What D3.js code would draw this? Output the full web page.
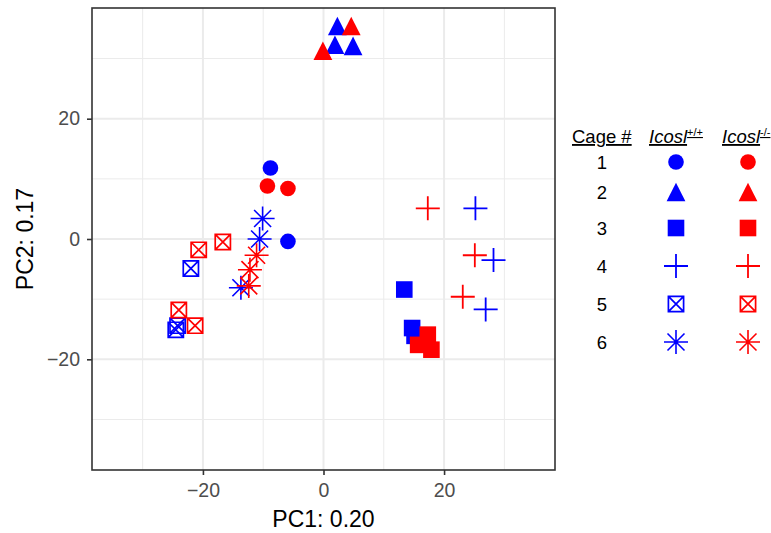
<!DOCTYPE html>
<html>
<head>
<meta charset="utf-8">
<script src="https://cdn.jsdelivr.net/npm/d3@7"></script>
<style>
  body { margin: 0; background: #fff; }
  text { font-family: "Liberation Sans", Arial, sans-serif; }
</style>
</head>
<body>
<div id="chart"></div>
<script>
// PCA scores, one entry per mouse
const pc1 = [-8.8, -5.9, -9.3, -5.9,
             2.3, 1.9, 4.9, 4.6, -0.1,
             13.4, 14.7, 15.1, 17.3, 15.7, 17.9,
             25.2, 28.2, 26.9, 17.3, 25.1, 23.1,
             -22.0, -24.2, -24.5, -16.7, -20.7, -24.0, -21.3,
             -10.1, -10.6, -13.7, -11.1, -12.2, -12.4];
const pc2 = [11.8, -0.4, 8.8, 8.4,
             35.4, 32.3, 32.1, 35.4, 31.3,
             -8.4, -14.8, -16.1, -15.9, -17.6, -18.4,
             5.1, -3.5, -11.7, 5.1, -2.7, -9.6,
             -4.9, -14.4, -15.1, -0.5, -1.8, -11.8, -14.4,
             3.4, 0.0, -8.1, -2.7, -5.1, -7.8];
const cage = [1, 1, 1, 1,
              2, 2, 2, 2, 2,
              3, 3, 3, 3, 3, 3,
              4, 4, 4, 4, 4, 4,
              5, 5, 5, 5, 5, 5, 5,
              6, 6, 6, 6, 6, 6];
const genotype = ["wt", "wt", "ko", "ko",
                  "wt", "wt", "wt", "ko", "ko",
                  "wt", "wt", "wt", "ko", "ko", "ko",
                  "wt", "wt", "wt", "ko", "ko", "ko",
                  "wt", "wt", "wt", "ko", "ko", "ko", "ko",
                  "wt", "wt", "wt", "ko", "ko", "ko"];

const xTicks = [-20, 0, 20];
const yTicks = [-20, 0, 20];
const minorTicks = [-30, -10, 10, 30];
const cages = [1, 2, 3, 4, 5, 6];
const genotypes = ["wt", "ko"];

const colors = { wt: "#0000ff", ko: "#ff0000" };

const width = 771, height = 533;
const panel = { left: 92, right: 555, top: 8, bottom: 470 };

const svg = d3.select("#chart").append("svg")
    .attr("width", width)
    .attr("height", height);

const x = d3.scaleLinear().domain([-38.4, 38.4]).range([panel.left, panel.right]);
const y = d3.scaleLinear().domain([-38.4, 38.4]).range([panel.bottom, panel.top]);

// grid
const grid = svg.append("g");
minorTicks.forEach(v => {
    grid.append("line").attr("x1", x(v)).attr("x2", x(v)).attr("y1", panel.top).attr("y2", panel.bottom)
        .attr("stroke", "#ebebeb").attr("stroke-width", 1);
    grid.append("line").attr("y1", y(v)).attr("y2", y(v)).attr("x1", panel.left).attr("x2", panel.right)
        .attr("stroke", "#ebebeb").attr("stroke-width", 1);
});
xTicks.forEach(v => {
    grid.append("line").attr("x1", x(v)).attr("x2", x(v)).attr("y1", panel.top).attr("y2", panel.bottom)
        .attr("stroke", "#ebebeb").attr("stroke-width", 2);
});
yTicks.forEach(v => {
    grid.append("line").attr("y1", y(v)).attr("y2", y(v)).attr("x1", panel.left).attr("x2", panel.right)
        .attr("stroke", "#ebebeb").attr("stroke-width", 2);
});

// axes
const fmt = d => d < 0 ? "\u2212" + Math.abs(d) : d;
const xAxis = svg.append("g")
    .attr("transform", `translate(0,${panel.bottom})`)
    .call(d3.axisBottom(x).tickValues(xTicks).tickSize(5).tickPadding(8).tickFormat(fmt));
const yAxis = svg.append("g")
    .attr("transform", `translate(${panel.left},0)`)
    .call(d3.axisLeft(y).tickValues(yTicks).tickSize(5).tickPadding(7).tickFormat(fmt));
[xAxis, yAxis].forEach(a => {
    a.attr("font-size", null).attr("font-family", null);
    a.select(".domain").remove();
    a.selectAll(".tick line").attr("stroke", "#333333").attr("stroke-width", 1.6);
    a.selectAll(".tick text").attr("fill", "#4d4d4d")
        .style("font-family", "'Liberation Sans', Arial, sans-serif").style("font-size", "19.5px");
});

svg.append("text")
    .attr("x", (panel.left + panel.right) / 2).attr("y", 527)
    .attr("text-anchor", "middle").attr("font-size", 23).attr("fill", "#000")
    .text("PC1: 0.20");
svg.append("text")
    .attr("transform", `translate(33,${(panel.top + panel.bottom) / 2}) rotate(-90)`)
    .attr("text-anchor", "middle").attr("font-size", 23).attr("fill", "#000")
    .text("PC2: 0.17");

// shapes: cage -> drawing function
function drawShape(g, c, color) {
    if (c === 1) {
        g.append("circle").attr("r", 7.8).attr("fill", color);
    } else if (c === 2) {
        g.append("path").attr("d", "M0,-9.3L9.4,9.3L-9.4,9.3Z").attr("fill", color);
    } else if (c === 3) {
        g.append("rect").attr("x", -8.3).attr("y", -8.3).attr("width", 16.6).attr("height", 16.6).attr("fill", color);
    } else if (c === 4) {
        g.append("path").attr("d", "M-12,0H12M0,-12V12")
            .attr("stroke", color).attr("stroke-width", 1.8).attr("fill", "none");
    } else if (c === 5) {
        g.append("path").attr("d", "M-7.6,-7.6H7.6V7.6H-7.6ZM-7.6,-7.6L7.6,7.6M7.6,-7.6L-7.6,7.6")
            .attr("stroke", color).attr("stroke-width", 1.7).attr("fill", "none");
    } else if (c === 6) {
        g.append("path").attr("d", "M-12,0H12M0,-12V12M-8.5,-8.5L8.5,8.5M8.5,-8.5L-8.5,8.5")
            .attr("stroke", color).attr("stroke-width", 1.6).attr("fill", "none");
    }
}

const pts = svg.append("g");
pc1.forEach((v, i) => {
    const g = pts.append("g").attr("transform", `translate(${x(v)},${y(pc2[i])})`);
    drawShape(g, cage[i], colors[genotype[i]]);
});

// panel border
svg.append("rect")
    .attr("x", panel.left).attr("y", panel.top)
    .attr("width", panel.right - panel.left).attr("height", panel.bottom - panel.top)
    .attr("fill", "none").attr("stroke", "#333333").attr("stroke-width", 1.6);

// legend
const legend = svg.append("g");
const colX = { num: 602, wt: 676, ko: 748 };
const rowY = [162, 192, 228, 266, 304, 342];

legend.append("text").attr("x", 572).attr("y", 143).attr("font-size", 18.5)
    .attr("text-decoration", "underline").text("Cage #");
const h1 = legend.append("text").attr("x", 649).attr("y", 143).attr("font-size", 18.5);
h1.append("tspan").attr("font-style", "italic").attr("text-decoration", "underline").text("Icosl");
h1.append("tspan").attr("font-size", 11).attr("dy", -7).attr("text-decoration", "underline").text("+/+");
const h2 = legend.append("text").attr("x", 722).attr("y", 143).attr("font-size", 18.5);
h2.append("tspan").attr("font-style", "italic").attr("text-decoration", "underline").text("Icosl");
h2.append("tspan").attr("font-size", 11).attr("dy", -7).attr("text-decoration", "underline").text("-/-");

cages.forEach((c, i) => {
    legend.append("text").attr("x", colX.num).attr("y", rowY[i] + 6.5)
        .attr("text-anchor", "middle").attr("font-size", 18.5).text(c);
    genotypes.forEach(gt => {
        const g = legend.append("g").attr("transform", `translate(${colX[gt]},${rowY[i]})`);
        drawShape(g, c, colors[gt]);
    });
});
</script>
</body>
</html>
